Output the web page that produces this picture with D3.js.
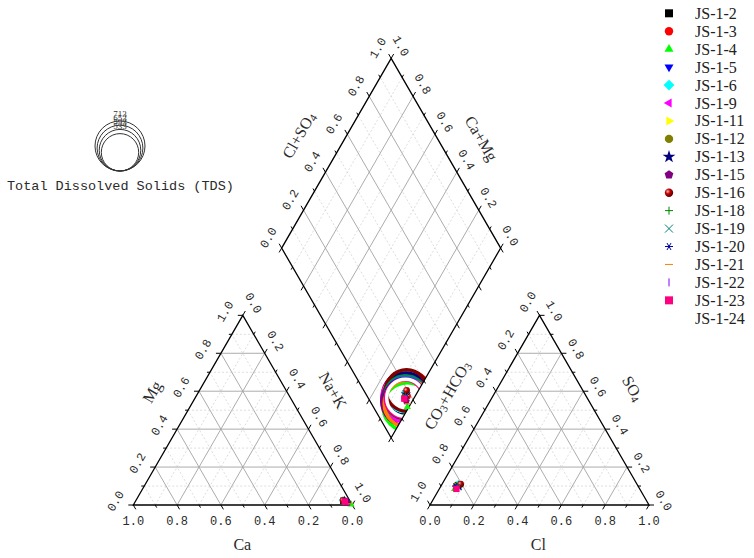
<!DOCTYPE html>
<html><head><meta charset="utf-8">
<script src="https://cdn.jsdelivr.net/npm/d3@7"></script>
<style>body{margin:0;background:#fff}svg{display:block}</style>
</head><body><svg id="c" width="754" height="558"></svg>
<script>
// ---------- data ----------
const samples = ["JS-1-2","JS-1-3","JS-1-4","JS-1-5","JS-1-6","JS-1-9","JS-1-11","JS-1-12","JS-1-13","JS-1-15","JS-1-16","JS-1-18","JS-1-19","JS-1-20","JS-1-21","JS-1-22","JS-1-23","JS-1-24"];
const caVals   = [0.030,0.020,0.004,0.024,0.030,0.022,0.028,0.026,0.025,0.015,0.030,0.025,0.023,0.022,0.008,0.020,0.025,0.020];
const mgVals   = [0.022,0.015,0.003,0.020,0.025,0.016,0.020,0.020,0.022,0.012,0.024,0.020,0.020,0.020,0.006,0.020,0.018,0.020];
const naKVals  = [0.948,0.965,0.993,0.956,0.945,0.962,0.952,0.954,0.953,0.973,0.946,0.955,0.957,0.958,0.986,0.960,0.957,0.960];
const hco3Vals = [0.820,0.816,0.845,0.822,0.815,0.830,0.825,0.830,0.818,0.835,0.805,0.825,0.825,0.835,0.835,0.830,0.837,0.830];
const so4Vals  = [0.105,0.104,0.085,0.100,0.110,0.098,0.095,0.100,0.100,0.090,0.110,0.105,0.095,0.100,0.090,0.090,0.085,0.100];
const clVals   = [0.075,0.080,0.070,0.078,0.075,0.072,0.080,0.070,0.082,0.075,0.085,0.070,0.080,0.065,0.075,0.080,0.078,0.070];
const tdsVals  = [610,713,690,650,560,680,600,620,610,700,590,580,575,560,670,553,540,533];
const tdsLegend = [713,653,593,533];
const tickVals = [0,0.2,0.4,0.6,0.8,1.0];
const colors = ["#000000","#ff0000","#00ff00","#0000ff","#00ffff","#ff00ff","#ffff00","#808000","#000080","#800080","#800000","#008000","#008080","#0000a0","#ff8000","#8000ff","#ff0080","#ffffff"];
const shapes = ["square","circle","triUp","triDown","diamond","triLeft","triRight","circle","star","pentagon","sphere","plus","x","asterisk","hline","vline","square","none"];

// ---------- geometry ----------
const svg = d3.select("#c");
const SIDE = 219, H = SIDE*Math.sqrt(3)/2, BASE = 505, LX = 133.3, RX = 430;
const BX = (LX+SIDE+RX)/2, BY = BASE-(RX-LX-SIDE)*Math.sqrt(3)/2;

function triScale(x0){
  const xs = d3.scaleLinear().domain([0,1]).range([x0,x0+SIDE]);
  const ys = d3.scaleLinear().domain([0,1]).range([BASE,BASE-H]);
  return (p,q)=>[xs(p+q/2), ys(q)];
}
const TL = triScale(LX), TR = triScale(RX);
const dxs = d3.scaleLinear().domain([0,1]).range([BX,BX+SIDE/2]);
const dys = d3.scaleLinear().domain([0,1]).range([BY,BY-H]);
const DM = (a,b)=>[dxs(a-b), dys(a+b)];
const rScale = d3.scaleLinear().domain([0,713]).range([0,25]);

const line = d3.line();
const gGrid = svg.append("g");
function gridLine(p1,p2,major){
  gGrid.append("path").attr("d",line([p1,p2])).attr("fill","none")
    .attr("stroke",major?"#a3a3a3":"#d4d4d4").attr("stroke-width",major?0.9:0.8)
    .attr("stroke-dasharray",major?null:"2,2");
}
const tenths = d3.range(1,10).map(i=>i/10);
[TL,TR].forEach(T=>{
  tenths.forEach((v,i)=>{
    const major = (i+1)%2===0;
    gridLine(T(0,v),T(1-v,v),major);
    gridLine(T(v,0),T(v,1-v),major);
    gridLine(T(1-v,0),T(0,1-v),major);
  });
});
tenths.forEach((v,i)=>{
  const major = (i+1)%2===0;
  gridLine(DM(v,0),DM(v,1),major);
  gridLine(DM(0,v),DM(1,v),major);
});

// clip for TDS circles
const defs = svg.append("defs");
defs.append("clipPath").attr("id","dclip").append("path")
  .attr("d",line([DM(0,0),DM(1,0),DM(1,1),DM(0,1)])+"Z");
const grad = defs.append("radialGradient").attr("id","sph").attr("cx","35%").attr("cy","35%").attr("r","65%");
grad.append("stop").attr("offset","0%").attr("stop-color","#ffb0b0");
grad.append("stop").attr("offset","45%").attr("stop-color","#c00000");
grad.append("stop").attr("offset","100%").attr("stop-color","#600000");

// TDS circles in diamond
const gCirc = svg.append("g").attr("clip-path","url(#dclip)");
samples.forEach((s,i)=>{
  const a = clVals[i]+so4Vals[i], b = caVals[i]+mgVals[i];
  const [x,y] = DM(a,b);
  gCirc.append("circle").attr("cx",x).attr("cy",y).attr("r",rScale(tdsVals[i]))
    .attr("fill","none").attr("stroke",colors[i]).attr("stroke-width",3.5);
});

// outlines
const gAx = svg.append("g");
[TL,TR].forEach(T=>{
  gAx.append("path").attr("d",line([T(0,0),T(1,0),T(0,1)])+"Z")
    .attr("fill","none").attr("stroke","#000").attr("stroke-width",1.3);
});
gAx.append("path").attr("d",line([DM(0,0),DM(1,0),DM(1,1),DM(0,1)])+"Z")
  .attr("fill","none").attr("stroke","#000").attr("stroke-width",1.3);

// ticks
const S3 = Math.sqrt(3)/2;
function ticks(ptFn, dir){
  d3.range(0,11).forEach(i=>{
    const v=i/10, len = i%2===0?5:3;
    const p = ptFn(v);
    gAx.append("path").attr("d",line([p,[p[0]+dir[0]*len,p[1]+dir[1]*len]]))
      .attr("stroke","#000").attr("stroke-width",1);
  });
}
ticks(c=>TL(1-c,0),[0.5,S3]);
ticks(m=>TL(0,m),[-1,0]);
ticks(n=>TL(n,1-n),[0.5,-S3]);
ticks(c=>TR(c,0),[-0.5,S3]);
ticks(h=>TR(0,1-h),[-0.5,-S3]);
ticks(s=>TR(1-s,s),[1,0]);
ticks(v=>DM(v,1),[-0.5,-S3]);
ticks(v=>DM(1,v),[0.5,-S3]);
ticks(v=>DM(0,v),[-0.5,S3]);
ticks(v=>DM(v,0),[0.5,S3]);

// tick labels
const gLab = svg.append("g").attr("font-family","'Liberation Mono', monospace").attr("font-size",12).attr("fill","#2a2a2a");
function tlabels(ptFn, off, rot){
  tickVals.forEach(v=>{
    const p = ptFn(v);
    gLab.append("text").attr("transform",`translate(${p[0]+off[0]},${p[1]+off[1]}) rotate(${rot})`)
      .attr("text-anchor","middle").attr("dominant-baseline","central").text(v.toFixed(1));
  });
}
tlabels(c=>TL(1-c,0),[0,17],0);
tlabels(m=>TL(0,m),[-17,-3.5],-60);
tlabels(n=>TL(n,1-n),[10,-12],60);
tlabels(c=>TR(c,0),[0,17],0);
tlabels(h=>TR(0,1-h),[-11,-13],-60);
tlabels(s=>TR(1-s,s),[14,-4],60);
tlabels(v=>DM(v,1),[-12.5,-10],-60);
tlabels(v=>DM(1,v),[9,-12],60);

// axis titles
const gT = svg.append("g").attr("font-family","'Liberation Serif', serif").attr("font-size",16).attr("fill","#2a2a2a");
function title(x,y,rot,segs){
  const t = gT.append("text").attr("transform",`translate(${x},${y}) rotate(${rot})`)
    .attr("text-anchor","middle").attr("dominant-baseline","central");
  let sub=false;
  segs.forEach(s=>{
    if(typeof s !== "string"){ t.append("tspan").attr("font-size",11).attr("dy",4).text(s.sub); sub=true; }
    else { t.append("tspan").attr("dy",sub?-4:0).text(s); sub=false; }
  });
}
title(151.7,391.7,-60,["Mg"]);
title(333.3,390,60,["Na+K"]);
title(242.3,544,0,["Ca"]);
title(446.7,395,-60,["CO",{sub:"3"},"+HCO",{sub:"3"}]);
title(633.3,388.3,60,["SO",{sub:"4"}]);
title(538.3,544,0,["Cl"]);
title(298.3,135,-60,["Cl+SO",{sub:"4"}]);
title(481.7,138.3,60,["Ca+Mg"]);

// symbols
function poly(n,r,rot){
  return d3.range(n).map(k=>{const a=rot+k*2*Math.PI/n;return [r*Math.cos(a),r*Math.sin(a)];});
}
function drawSym(g,shape,color,x,y,s){
  const gg = g.append("g").attr("transform",`translate(${x},${y})`);
  const fillPath = d=>gg.append("path").attr("d",d).attr("fill",color);
  const strokePath = d=>gg.append("path").attr("d",d).attr("fill","none").attr("stroke",color).attr("stroke-width",1);
  switch(shape){
    case "square": fillPath(line([[-s,-s],[s,-s],[s,s],[-s,s]])+"Z"); break;
    case "circle": gg.append("circle").attr("r",s*1.05).attr("fill",color); break;
    case "sphere": gg.append("circle").attr("r",s*1.05).attr("fill","url(#sph)"); break;
    case "triUp": fillPath(line(poly(3,s*1.3,-Math.PI/2))+"Z"); break;
    case "triDown": fillPath(line(poly(3,s*1.3,Math.PI/2))+"Z"); break;
    case "triLeft": fillPath(line(poly(3,s*1.3,Math.PI))+"Z"); break;
    case "triRight": fillPath(line(poly(3,s*1.3,0))+"Z"); break;
    case "diamond": fillPath(line(poly(4,s*1.35,0))+"Z"); break;
    case "pentagon": fillPath(line(poly(5,s*1.15,-Math.PI/2))+"Z"); break;
    case "star": fillPath(d3.symbol(d3.symbolStar,s*s*3.2)()); break;
    case "plus": strokePath(`M${-s},0H${s}M0,${-s}V${s}`); break;
    case "x": strokePath(`M${-s},${-s}L${s},${s}M${-s},${s}L${s},${-s}`); break;
    case "asterisk": strokePath(`M${-s},0H${s}M${-s/2},${-s*S3}L${s/2},${s*S3}M${-s/2},${s*S3}L${s/2},${-s*S3}`); break;
    case "hline": strokePath(`M${-s},0H${s}`); break;
    case "vline": strokePath(`M0,${-s}V${s}`); break;
    default: break;
  }
}
const gSym = svg.append("g");
samples.forEach((s,i)=>{
  const a = clVals[i]+so4Vals[i], b = caVals[i]+mgVals[i];
  const pL = TL(naKVals[i],mgVals[i]);
  const pR = TR(clVals[i],so4Vals[i]);
  const pD = DM(a,b);
  [pL,pR,pD].forEach(p=>drawSym(gSym,shapes[i],colors[i],p[0],p[1],3.2));
});

// legend
const gLeg = svg.append("g");
samples.forEach((s,i)=>{
  const y = 13.3 + i*17.94;
  drawSym(gLeg,shapes[i],colors[i],669,y,4);
  gLeg.append("text").attr("x",695).attr("y",y).attr("dominant-baseline","central")
    .attr("font-family","'Liberation Serif', serif").attr("font-size",16).attr("fill","#222").text(s);
});

// TDS legend
const gTds = svg.append("g");
const tcx = 120, tby = 171;
tdsLegend.forEach(v=>{
  const r = rScale(v);
  gTds.append("circle").attr("cx",tcx).attr("cy",tby-r).attr("r",r)
    .attr("fill","none").attr("stroke","#333").attr("stroke-width",1);
});
tdsLegend.forEach(v=>{
  const r = rScale(v);
  gTds.append("text").attr("x",tcx).attr("y",tby-2*r-7.5).attr("text-anchor","middle")
    .attr("dominant-baseline","central").attr("font-family","'Liberation Serif', serif")
    .attr("font-size",9).attr("fill","#333").text(v);
});
gTds.append("text").attr("x",7).attr("y",186).attr("dominant-baseline","central")
  .attr("font-family","'Liberation Mono', monospace").attr("font-size",13.5).attr("fill","#2a2a2a")
  .text("Total Dissolved Solids (TDS)");
</script></body></html>
